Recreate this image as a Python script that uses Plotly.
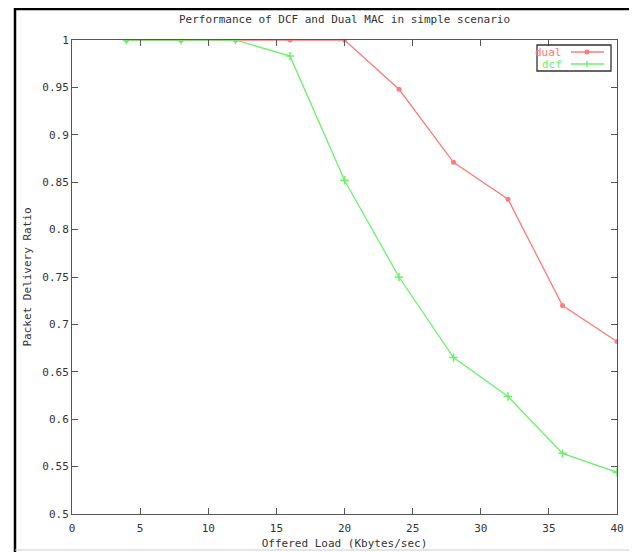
import plotly.graph_objects as go

load = [4, 8, 12, 16, 20, 24, 28, 32, 36, 40]
dual = [1.0, 1.0, 1.0, 1.0, 1.0, 0.948, 0.871, 0.832, 0.720, 0.682]
dcf = [1.0, 1.0, 1.0, 0.983, 0.852, 0.750, 0.665, 0.624, 0.564, 0.544]
series_names = ["dual", "dcf"]

x_ticks = [0, 5, 10, 15, 20, 25, 30, 35, 40]
y_ticks = [0.5, 0.55, 0.6, 0.65, 0.7, 0.75, 0.8, 0.85, 0.9, 0.95, 1.0]
y_labels = ["0.5", "0.55", "0.6", "0.65", "0.7", "0.75", "0.8", "0.85", "0.9", "0.95", "1"]

RED = "#ff7a7a"
GREEN = "#6cf06c"
FONT = "DejaVu Sans Mono"
TXT = "#333333"

# page has an 8px body margin: figure coords = page coords - 8
W, H = 629, 544
L, R, T, B = 64, 20, 32, 38
PW = W - L - R
PH = H - T - B


def px(xf):
    return (xf - L) / PW


def py(yf):
    return (H - B - yf) / PH


fig = go.Figure()
fig.add_trace(go.Scatter(
    x=load, y=dual, mode="lines+markers", name=series_names[0],
    line=dict(color=RED, width=1.3),
    marker=dict(symbol="circle", size=5, color=RED),
    showlegend=False,
))
fig.add_trace(go.Scatter(
    x=load, y=dcf, mode="lines+markers", name=series_names[1],
    line=dict(color=GREEN, width=1.3),
    marker=dict(symbol="cross-thin", size=6, color=GREEN, line=dict(color=GREEN, width=1.5)),
    showlegend=False,
))

axis_common = dict(
    showline=True, linecolor="#555555", linewidth=1, mirror="ticks",
    ticks="inside", ticklen=6, tickcolor="#555555", tickwidth=1,
    showgrid=False, zeroline=False, automargin=False,
    tickfont=dict(family=FONT, size=11, color=TXT),
)

fig.update_layout(
    width=W, height=H,
    margin=dict(l=L, r=R, t=T, b=B, autoexpand=False),
    paper_bgcolor="white", plot_bgcolor="white",
    title=dict(text="Performance of DCF and Dual MAC in simple scenario",
               x=(L + PW / 2) / W, xanchor="center", y=1 - 11 / H, yanchor="middle",
               font=dict(family=FONT, size=11, color=TXT)),
    xaxis=dict(range=[0, 40], tickvals=x_ticks, ticktext=[str(v) for v in x_ticks],
               ticklabelstandoff=4,
               title=dict(text="Offered Load (Kbytes/sec)", standoff=5,
                          font=dict(family=FONT, size=11, color=TXT)),
               **axis_common),
    yaxis=dict(range=[0.5, 1.0], tickvals=y_ticks, ticktext=y_labels,
               title=dict(text="Packet Delivery Ratio", standoff=8,
                          font=dict(family=FONT, size=11, color=TXT)),
               **axis_common),
    showlegend=False,
)

# gnuplot-style key: label on the left, sample on the right
fig.add_shape(type="rect", xref="paper", yref="paper", x0=px(529), x1=px(603),
              y0=py(63), y1=py(37), line=dict(color="#333333", width=1.3), layer="above")
rows = [(44, RED, series_names[0]), (56, GREEN, series_names[1])]
for i, (yy, col, nm) in enumerate(rows):
    fig.add_annotation(text=nm, xref="paper", yref="paper", x=px(556), y=py(yy),
                       xanchor="right", yanchor="middle", showarrow=False,
                       font=dict(family=FONT, size=11, color=col))
    fig.add_shape(type="line", xref="paper", yref="paper", x0=px(563), x1=px(596),
                  y0=py(yy), y1=py(yy), line=dict(color=col, width=1.3), layer="above")
    if i == 0:
        fig.add_shape(type="circle", xref="paper", yref="paper", x0=px(576.5), x1=px(581.5),
                      y0=py(yy + 2.5), y1=py(yy - 2.5), fillcolor=col, line=dict(color=col, width=0),
                      layer="above")
    else:
        fig.add_shape(type="line", xref="paper", yref="paper", x0=px(579), x1=px(579),
                      y0=py(yy + 3), y1=py(yy - 3), line=dict(color=col, width=1.5), layer="above")

# outer frame of the image
fig.add_shape(type="line", xref="paper", yref="paper", x0=px(7), x1=px(7),
              y0=py(H), y1=py(0), line=dict(color="black", width=2.5), layer="above")
fig.add_shape(type="line", xref="paper", yref="paper", x0=px(7), x1=px(W),
              y0=py(1), y1=py(1), line=dict(color="black", width=2.5), layer="above")
fig.add_shape(type="line", xref="paper", yref="paper", x0=px(626), x1=px(626),
              y0=py(H), y1=py(0), line=dict(color="black", width=2.5), layer="above")
fig.add_shape(type="line", xref="paper", yref="paper", x0=px(7), x1=px(626),
              y0=py(542), y1=py(542), line=dict(color="#cccccc", width=1), layer="above")

fig.write_html("out.html")
